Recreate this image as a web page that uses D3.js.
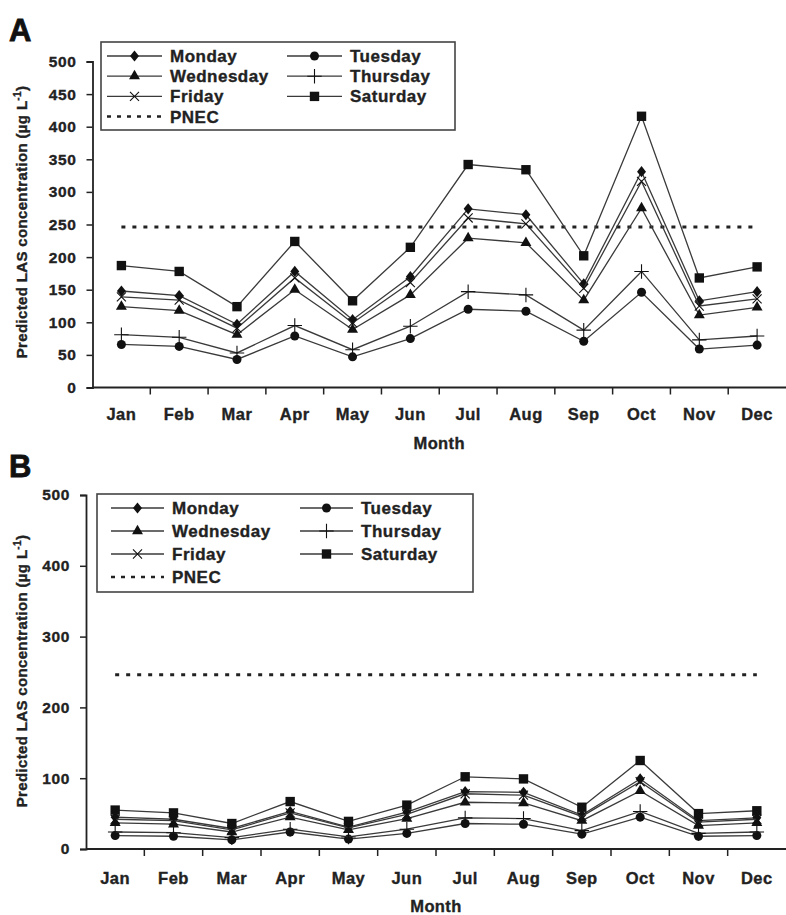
<!DOCTYPE html>
<html>
<head>
<meta charset="utf-8">
<script src="https://cdn.jsdelivr.net/npm/d3@7"></script>
<style>
  body { margin: 0; background: #fff; }
  svg { display: block; font-family: "Liberation Sans", Arial, sans-serif; }
  svg text { stroke: #222; stroke-width: 0.35px; }
</style>
</head>
<body>
<svg id="chart" width="786" height="915"></svg>
<script>
const months = ["Jan", "Feb", "Mar", "Apr", "May", "Jun", "Jul", "Aug", "Sep", "Oct", "Nov", "Dec"];
const days = ["Monday", "Tuesday", "Wednesday", "Thursday", "Friday", "Saturday"];
const pnec = 246;

// panel A values (µg/L)
const monA = [148, 141, 97, 178, 104, 170, 274, 265, 159, 331, 133, 147];
const tueA = [66, 63, 43, 79, 47, 75, 120, 117, 71, 146, 59, 65];
const wedA = [124, 118, 81, 150, 89, 142, 229, 222, 134, 275, 111, 123];
const thuA = [81, 77, 53, 95, 58, 94, 147, 142, 88, 178, 73, 79];
const friA = [139, 134, 91, 168, 99, 161, 260, 251, 152, 316, 125, 136];
const satA = [187, 178, 124, 224, 133, 215, 342, 334, 202, 416, 168, 185];

// panel B values
const monB = [45, 42, 29, 53, 31, 52, 81, 80, 48, 99, 40, 44];
const tueB = [19, 18, 13, 24, 14, 22, 36, 35, 21, 45, 18, 19];
const wedB = [37, 35, 24, 45, 27, 43, 66, 65, 40, 82, 33, 37];
const thuB = [24, 23, 16, 28, 17, 28, 44, 43, 26, 53, 22, 24];
const friB = [42, 40, 27, 51, 30, 49, 78, 76, 46, 95, 38, 42];
const satB = [55, 51, 36, 67, 39, 62, 102, 99, 59, 125, 50, 54];

const ticksA = [0, 50, 100, 150, 200, 250, 300, 350, 400, 450, 500];
const ticksB = [0, 100, 200, 300, 400, 500];

// wider diamond than d3's default
const wideDiamond = {
  draw(ctx, size) {
    const h = Math.sqrt(size / 1.6);
    const w = h * 0.8;
    ctx.moveTo(0, -h); ctx.lineTo(w, 0); ctx.lineTo(0, h); ctx.lineTo(-w, 0); ctx.closePath();
  }
};

const symbols = {
  Monday: { type: wideDiamond, size: 50, fill: true },
  Tuesday: { type: d3.symbolCircle, size: 64, fill: true },
  Wednesday: { type: d3.symbolTriangle, size: 52, fill: true },
  Thursday: { type: d3.symbolPlus, size: 70, fill: false },
  Friday: { type: d3.symbolTimes, size: 55, fill: false },
  Saturday: { type: d3.symbolSquare, size: 88, fill: true },
};

const svg = d3.select("#chart");
const lineColor = "#3a3a3a";
const inkColor = "#111";

function drawMarker(g, day, x, y) {
  const s = symbols[day];
  g.append("path")
    .attr("transform", `translate(${x},${y})`)
    .attr("d", d3.symbol(s.type, s.size)())
    .attr("fill", s.fill ? inkColor : "none")
    .attr("stroke", s.fill ? "none" : inkColor)
    .attr("stroke-width", 1.1);
}

function drawPanel(p) {
  const x = d3.scaleBand().domain(months).range([p.x0, p.x1]);
  const y = d3.scaleLinear().domain([0, 500]).range([p.y0, p.y1]);
  const g = svg.append("g");

  // panel letter
  g.append("text").attr("x", 9).attr("y", p.letterY)
    .attr("font-size", 31).attr("font-weight", "bold").attr("fill", inkColor)
    .style("stroke", inkColor).style("stroke-width", "0.8px")
    .text(p.letter);

  // y axis
  const yAxis = g.append("g").attr("transform", `translate(${p.x0},0)`)
    .call(d3.axisLeft(y).tickValues(p.ticks).tickSize(6).tickPadding(10));
  yAxis.select(".domain").attr("stroke", "#222").attr("stroke-width", 1.8);
  yAxis.selectAll(".tick line").attr("stroke", "#222").attr("stroke-width", 1.5);
  yAxis.selectAll("text").attr("font-size", 15.5).attr("font-weight", "bold")
    .attr("fill", "#222").attr("letter-spacing", 0.6).attr("font-family", "Liberation Sans, Arial");

  // x axis, ticks at band edges
  const xAxis = g.append("g").attr("transform", `translate(0,${p.y0})`);
  xAxis.append("line").attr("x1", p.x0).attr("x2", p.x1)
    .attr("stroke", "#222").attr("stroke-width", 2);
  xAxis.selectAll("line.tk").data(months.slice(1)).join("line").attr("class", "tk")
    .attr("x1", d => x(d)).attr("x2", d => x(d)).attr("y1", 0).attr("y2", 7)
    .attr("stroke", "#222").attr("stroke-width", 1.5);
  xAxis.selectAll("text").data(months).join("text")
    .attr("x", d => x(d) + x.bandwidth() / 2).attr("y", p.monthDy)
    .attr("text-anchor", "middle").attr("font-size", 16.5).attr("font-weight", "bold")
    .attr("fill", "#222").attr("letter-spacing", 0.5)
    .text(d => d);

  g.append("text").attr("x", (p.x0 + p.x1) / 2).attr("y", p.y0 + p.titleDy)
    .attr("text-anchor", "middle").attr("font-size", 16.5).attr("font-weight", "bold")
    .attr("fill", "#222").attr("letter-spacing", 0.4).text("Month");

  const yt = g.append("text")
    .attr("transform", `translate(27,${p.yTitleY}) rotate(-90)`)
    .attr("text-anchor", "middle").attr("font-size", 15).attr("font-weight", "bold")
    .attr("fill", "#222").attr("letter-spacing", 0.35);
  yt.append("tspan").text("Predicted LAS concentration (\u00b5g L");
  yt.append("tspan").attr("dy", -6).attr("font-size", 10).text("-1");
  yt.append("tspan").attr("dy", 6).text(")");

  // PNEC line
  const cx = m => x(m) + x.bandwidth() / 2;
  g.append("line").attr("x1", cx("Jan")).attr("x2", cx("Dec"))
    .attr("y1", y(pnec)).attr("y2", y(pnec))
    .attr("stroke", "#222").attr("stroke-width", 3).attr("stroke-dasharray", "4,7");

  // series
  const line = d3.line().x((d, i) => cx(months[i])).y(d => y(d));
  days.forEach(day => {
    const vals = p.series[day];
    g.append("path").datum(vals).attr("d", line)
      .attr("fill", "none").attr("stroke", lineColor).attr("stroke-width", 1.3);
    vals.forEach((v, i) => drawMarker(g, day, cx(months[i]), y(v)));
  });

  // legend
  const L = p.legend;
  g.append("rect").attr("x", L.x).attr("y", L.y).attr("width", L.w).attr("height", L.h)
    .attr("fill", "#fff").attr("stroke", "#444").attr("stroke-width", 1.6);
  const cols = [L.col1, L.col2];
  days.forEach((day, i) => {
    const c = cols[i % 2];
    const ry = L.row0 + Math.floor(i / 2) * L.rowGap;
    g.append("line").attr("x1", c).attr("x2", c + L.lineLen).attr("y1", ry).attr("y2", ry)
      .attr("stroke", lineColor).attr("stroke-width", 1.3);
    drawMarker(g, day, c + L.lineLen / 2, ry);
    g.append("text").attr("x", c + L.lineLen + 8).attr("y", ry + 6)
      .attr("font-size", 17).attr("font-weight", "bold").attr("fill", "#222")
      .attr("letter-spacing", 0.5).text(day);
  });
  const py = L.row0 + 3 * L.rowGap;
  g.append("line").attr("x1", L.col1).attr("x2", L.col1 + L.lineLen).attr("y1", py).attr("y2", py)
    .attr("stroke", "#222").attr("stroke-width", 2.5).attr("stroke-dasharray", "4,6");
  g.append("text").attr("x", L.col1 + L.lineLen + 8).attr("y", py + 6)
    .attr("font-size", 17).attr("font-weight", "bold").attr("fill", "#222")
    .attr("letter-spacing", 0.5).text("PNEC");
}

drawPanel({
  letter: "A", letterY: 41,
  x0: 92.5, x1: 786, y0: 387.5, y1: 61.5,
  ticks: ticksA, monthDy: 32, titleDy: 61, yTitleY: 222,
  series: { Monday: monA, Tuesday: tueA, Wednesday: wedA, Thursday: thuA, Friday: friA, Saturday: satA },
  legend: { x: 101, y: 42, w: 354, h: 88, col1: 107, col2: 287, lineLen: 55, row0: 56, rowGap: 20.2 },
});

drawPanel({
  letter: "B", letterY: 477,
  x0: 86, x1: 786, y0: 849, y1: 495,
  ticks: ticksB, monthDy: 35, titleDy: 63, yTitleY: 671,
  series: { Monday: monB, Tuesday: tueB, Wednesday: wedB, Thursday: thuB, Friday: friB, Saturday: satB },
  legend: { x: 97, y: 494, w: 376, h: 98, col1: 111, col2: 300, lineLen: 53, row0: 508, rowGap: 23 },
});
</script>
</body>
</html>
